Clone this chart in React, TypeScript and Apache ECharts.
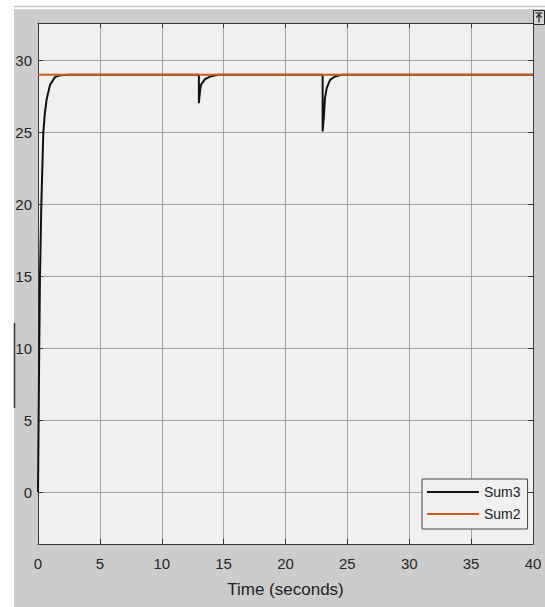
import React, { useEffect, useRef } from "react";
import * as echarts from "echarts";

// ---- data ----
const seriesNames = ["Sum3", "Sum2"];
const sum3Time = [
  0, 0.02, 0.05, 0.1, 0.16, 0.27, 0.43, 0.55, 0.7, 0.97, 1.37, 1.8, 2.5,
  13, 13, 13.08, 13.17, 13.5, 13.9, 14.57,
  23, 23, 23.11, 23.19, 23.33, 23.6, 24.0, 24.54, 40,
];
const sum3Values = [
  0, 2, 5, 10, 15, 20, 25, 26.3, 27.3, 28.3, 28.84, 28.97, 29,
  29, 27.03, 27.8, 28.3, 28.7, 28.88, 29,
  29, 25.06, 26.2, 27.4, 28.07, 28.65, 28.88, 29, 29,
];
const sum2Time = [0, 40];
const sum2Values = [29, 29];
const xTicks = [0, 5, 10, 15, 20, 25, 30, 35, 40];
const yTickStep = 5;
const xAxisTitle = "Time (seconds)";

const FONT = "'Liberation Sans', Arial, Helvetica, sans-serif";

export default function App() {
  const ref = useRef<HTMLDivElement>(null);

  useEffect(() => {
    if (!ref.current) return;
    const chart = echarts.init(ref.current, undefined, { renderer: "svg" });

    const pair = (xs: number[], ys: number[]) => xs.map((x, i) => [x, ys[i]]);

    const axisLineStyle = { color: "#3a3a3a", width: 1 };
    const tickStyle = { show: true, inside: true, length: 5, lineStyle: { color: "#333", width: 1 } };

    const option: any = {
      animation: false,
      backgroundColor: "#ffffff",
      graphic: [
        {
          type: "rect",
          z: -100,
          silent: true,
          shape: { x: 14, y: 9, width: 531, height: 598 },
          style: { fill: "#cccccc" },
        },
        {
          type: "line",
          z: -100,
          silent: true,
          shape: { x1: 14, y1: 6.5, x2: 545, y2: 6.5 },
          style: { stroke: "#c4c4c4", lineWidth: 1.5 },
        },
        {
          type: "line",
          z: 100,
          silent: true,
          shape: { x1: 14.5, y1: 323, x2: 14.5, y2: 408 },
          style: { stroke: "#333333", lineWidth: 1.5 },
        },
        {
          type: "rect",
          z: 100,
          silent: true,
          shape: { x: 533.5, y: 10.5, width: 11, height: 14 },
          style: { fill: "#d6d6d6", stroke: "#222", lineWidth: 1 },
        },
        {
          type: "line",
          z: 101,
          silent: true,
          shape: { x1: 535.5, y1: 13, x2: 542.5, y2: 13 },
          style: { stroke: "#222", lineWidth: 1.2 },
        },
        {
          type: "line",
          z: 101,
          silent: true,
          shape: { x1: 539, y1: 14, x2: 539, y2: 22.5 },
          style: { stroke: "#222", lineWidth: 1.2 },
        },
        {
          type: "polyline",
          z: 101,
          silent: true,
          shape: { points: [[536.3, 17.5], [539, 14.5], [541.7, 17.5]] },
          style: { stroke: "#222", lineWidth: 1.2, fill: "none" },
        },
      ],
      grid: {
        left: 38,
        right: 12,
        top: 23,
        bottom: 63,
        show: true,
        backgroundColor: "#f0f0f0",
        borderWidth: 0,
      },
      legend: {
        show: true,
        orient: "vertical",
        left: 422,
        top: 479,
        data: seriesNames,
        icon: "rect",
        itemWidth: 52,
        itemHeight: 2,
        itemGap: 8,
        padding: [6, 7, 8, 5],
        backgroundColor: "#f0f0f0",
        borderColor: "#444",
        borderWidth: 1,
        textStyle: { fontSize: 14, color: "#222", fontFamily: FONT },
      },
      xAxis: [
        {
          type: "value",
          min: xTicks[0],
          max: xTicks[xTicks.length - 1],
          interval: xTicks[1] - xTicks[0],
          position: "bottom",
          name: xAxisTitle,
          nameLocation: "middle",
          nameGap: 37,
          nameTextStyle: { fontSize: 17, color: "#222", fontFamily: FONT },
          axisLine: { show: true, onZero: false, lineStyle: axisLineStyle },
          axisTick: tickStyle,
          axisLabel: { fontSize: 15, color: "#262626", fontFamily: FONT, margin: 12 },
          splitLine: { show: true, lineStyle: { color: "#a4a4a4", width: 1 } },
        },
        {
          type: "value",
          min: xTicks[0],
          max: xTicks[xTicks.length - 1],
          interval: xTicks[1] - xTicks[0],
          position: "top",
          axisLine: { show: true, onZero: false, lineStyle: axisLineStyle },
          axisTick: tickStyle,
          axisLabel: { show: false },
          splitLine: { show: false },
        },
      ],
      yAxis: [
        {
          type: "value",
          min: -3.6,
          max: 32.6,
          splitNumber: 7,
          position: "left",
          axisLine: { show: true, onZero: false, lineStyle: axisLineStyle },
          axisTick: tickStyle,
          axisLabel: {
            fontSize: 15,
            color: "#262626",
            fontFamily: FONT,
            margin: 6,
            showMinLabel: false,
            showMaxLabel: false,
            formatter: (v: number) =>
              Math.abs(v / yTickStep - Math.round(v / yTickStep)) < 1e-6 ? String(Math.round(v)) : "",
          },
          splitLine: { show: true, lineStyle: { color: "#a4a4a4", width: 1 } },
        },
        {
          type: "value",
          min: -3.6,
          max: 32.6,
          splitNumber: 7,
          position: "right",
          axisLine: { show: true, onZero: false, lineStyle: axisLineStyle },
          axisTick: tickStyle,
          axisLabel: { show: false },
          splitLine: { show: false },
        },
      ],
      series: [
        {
          name: seriesNames[0],
          type: "line",
          xAxisIndex: 0,
          yAxisIndex: 0,
          data: pair(sum3Time, sum3Values),
          showSymbol: false,
          symbol: "none",
          smooth: false,
          color: "#111111",
          lineStyle: { color: "#111111", width: 2 },
        },
        {
          name: seriesNames[1],
          type: "line",
          xAxisIndex: 0,
          yAxisIndex: 0,
          data: pair(sum2Time, sum2Values),
          showSymbol: false,
          symbol: "none",
          color: "#cd5a1e",
          lineStyle: { color: "#cd5a1e", width: 2 },
        },
      ],
    };

    chart.setOption(option);
    return () => chart.dispose();
  }, []);

  return (
    <div
      ref={ref}
      style={{ position: "fixed", left: 0, top: 0, width: 545, height: 607 }}
    />
  );
}
